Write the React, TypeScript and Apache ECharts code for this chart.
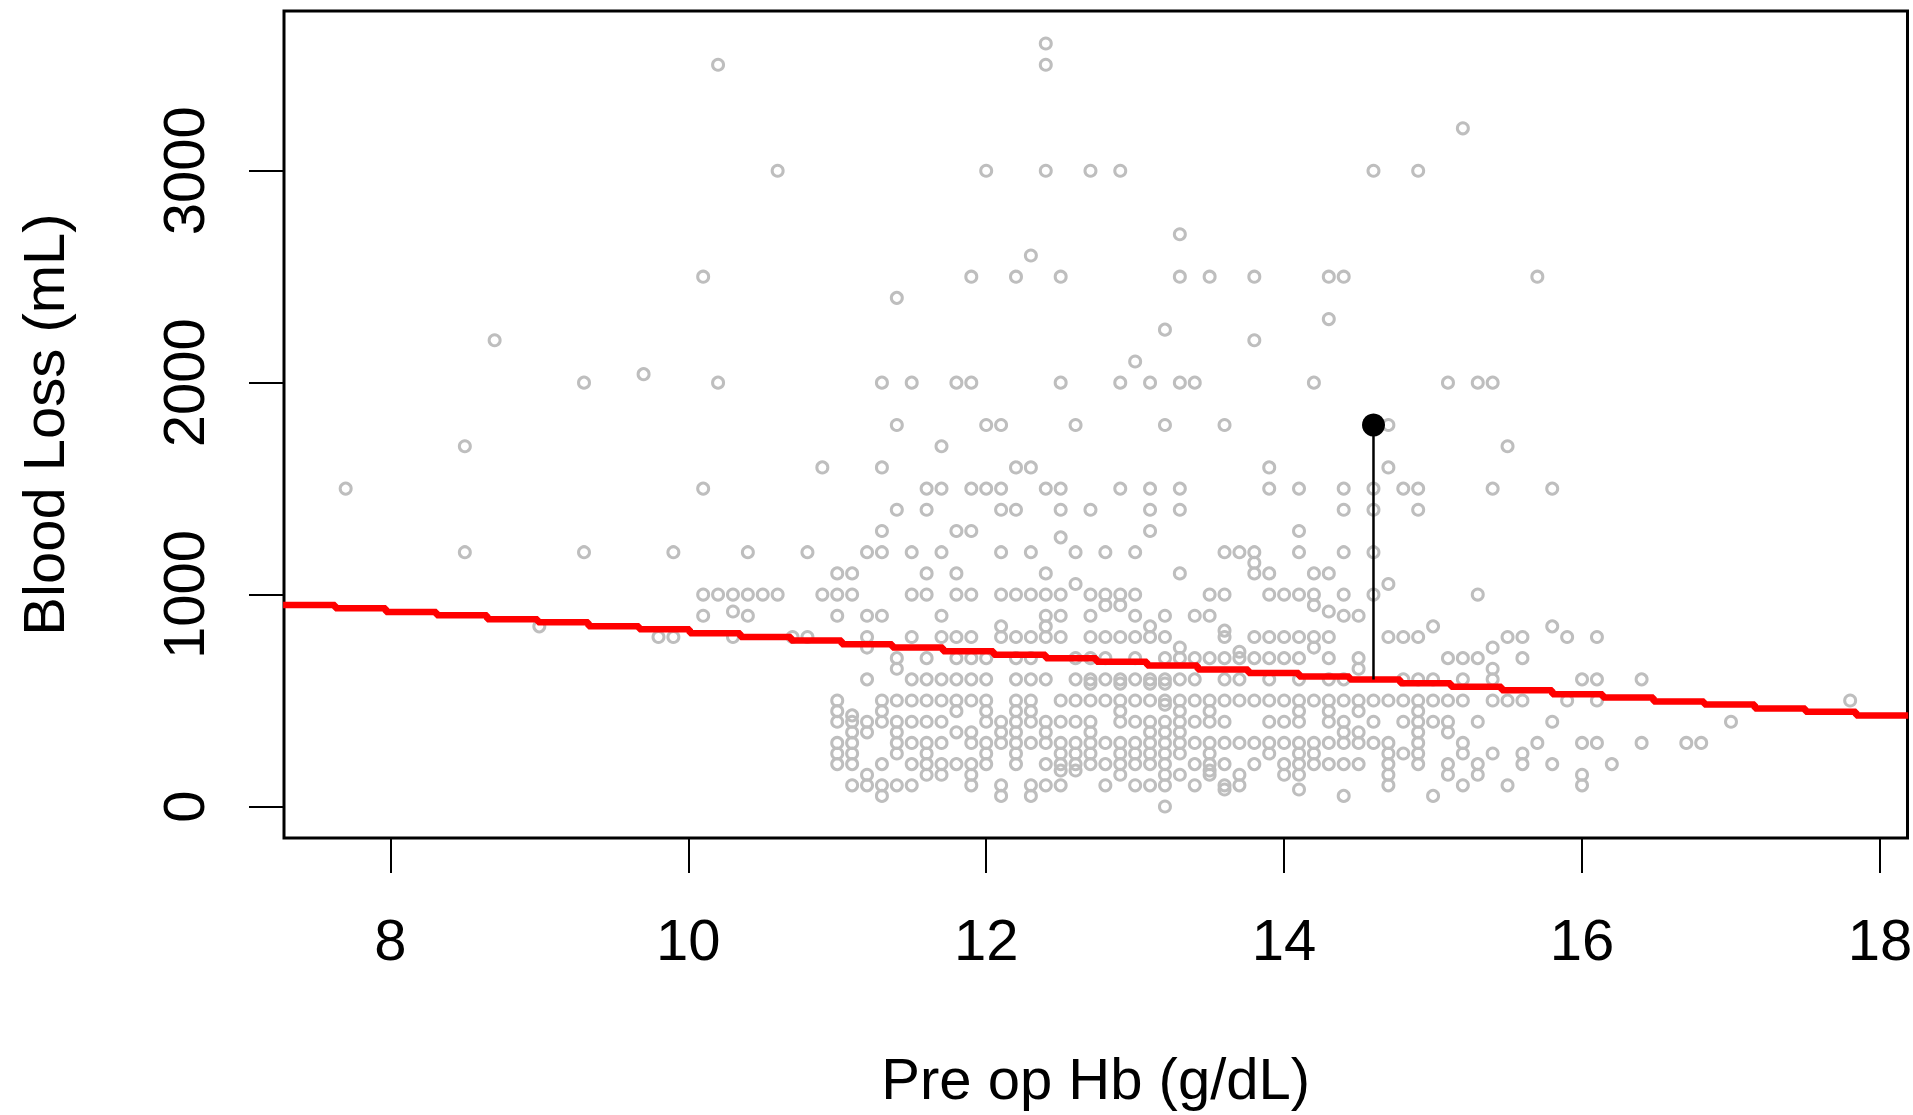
import React, { useEffect, useRef } from "react";
import * as echarts from "echarts";

// ---- axes ----
const xTicks = [8, 10, 12, 14, 16, 18];
const yTicks = [0, 1000, 2000, 3000];
const xMin = 7.286;
const xMax = 18.185;
const yMin = -148.6;
const yMax = 3753.6;

// ---- scatter: Hb values (g/dL) observed at each blood-loss level (mL) ----
const hb3600 = [12.4];
const hb3500 = [10.2, 12.4];
const hb3200 = [15.2];
const hb3000 = [10.6, 12.0, 12.4, 12.7, 12.9, 14.6, 14.9];
const hb2700 = [13.3];
const hb2600 = [12.3];
const hb2500 = [10.1, 11.9, 12.2, 12.5, 13.3, 13.5, 13.8, 14.3, 14.4, 15.7];
const hb2400 = [11.4];
const hb2300 = [14.3];
const hb2250 = [13.2];
const hb2200 = [8.7, 13.8];
const hb2100 = [13.0];
const hb2040 = [9.7];
const hb2000 = [9.3, 10.2, 11.3, 11.5, 11.8, 11.9, 12.5, 12.9, 13.1, 13.3, 13.4, 14.2, 15.1, 15.3, 15.4];
const hb1800 = [11.4, 12.0, 12.1, 12.6, 13.2, 13.6, 14.7];
const hb1700 = [8.5, 11.7, 15.5];
const hb1600 = [10.9, 11.3, 12.2, 12.3, 13.9, 14.7];
const hb1500 = [7.7, 10.1, 11.6, 11.7, 11.9, 12.0, 12.1, 12.4, 12.5, 12.9, 13.1, 13.3, 13.9, 14.1, 14.4, 14.6, 14.8, 14.9, 15.4, 15.8];
const hb1400 = [11.4, 11.6, 12.1, 12.2, 12.5, 12.7, 13.1, 13.3, 14.4, 14.6, 14.9];
const hb1300 = [11.3, 11.8, 11.9, 13.1, 14.1];
const hb1270 = [12.5];
const hb1200 = [8.5, 9.3, 9.9, 10.4, 10.8, 11.2, 11.3, 11.5, 11.7, 12.1, 12.3, 12.6, 12.8, 13.0, 13.6, 13.7, 13.8, 14.1, 14.4, 14.6];
const hb1150 = [13.8];
const hb1100 = [11.0, 11.1, 11.6, 11.8, 12.4, 13.3, 13.8, 13.9, 14.2, 14.3];
const hb1050 = [12.6, 14.7];
const hb1000 = [10.1, 10.2, 10.3, 10.4, 10.5, 10.6, 10.9, 11.0, 11.1, 11.5, 11.6, 11.8, 11.9, 12.1, 12.2, 12.3, 12.4, 12.5, 12.7, 12.8, 12.9, 13.0, 13.5, 13.6, 13.9, 14.0, 14.1, 14.2, 14.4, 14.6, 15.3];
const hb950 = [12.8, 12.9, 14.2];
const hb920 = [10.3, 14.3];
const hb900 = [10.1, 10.4, 11.0, 11.2, 11.3, 11.7, 12.4, 12.5, 12.7, 13.0, 13.2, 13.4, 13.5, 14.4, 14.5];
const hb850 = [9.0, 12.1, 12.4, 13.1, 15.0, 15.8];
const hb830 = [13.6];
const hb800 = [9.8, 9.9, 10.3, 10.7, 10.8, 11.2, 11.5, 11.7, 11.8, 11.9, 12.1, 12.2, 12.3, 12.4, 12.5, 12.7, 12.8, 12.9, 13.0, 13.1, 13.2, 13.6, 13.8, 13.9, 14.0, 14.1, 14.2, 14.3, 14.7, 14.8, 14.9, 15.5, 15.6, 15.9, 16.1];
const hb750 = [11.2, 13.3, 14.2, 15.4];
const hb730 = [13.7];
const hb700 = [11.4, 11.6, 11.8, 11.9, 12.0, 12.2, 12.3, 12.6, 12.7, 12.8, 13.0, 13.2, 13.3, 13.4, 13.5, 13.6, 13.7, 13.8, 13.9, 14.0, 14.1, 14.3, 14.5, 15.1, 15.2, 15.3, 15.6];
const hb650 = [11.4, 14.5, 15.4];
const hb600 = [11.2, 11.5, 11.6, 11.7, 11.8, 11.9, 12.0, 12.2, 12.3, 12.4, 12.6, 12.7, 12.8, 12.9, 13.0, 13.1, 13.2, 13.3, 13.4, 13.6, 13.7, 13.9, 14.1, 14.3, 14.4, 14.8, 14.9, 15.0, 15.2, 15.4, 16.0, 16.1, 16.4];
const hb580 = [12.7, 12.9, 13.1, 13.2];
const hb500 = [11.0, 11.3, 11.4, 11.5, 11.6, 11.7, 11.8, 11.9, 12.0, 12.2, 12.3, 12.5, 12.6, 12.7, 12.8, 12.9, 13.0, 13.1, 13.2, 13.3, 13.4, 13.5, 13.6, 13.7, 13.8, 13.9, 14.0, 14.1, 14.2, 14.3, 14.4, 14.5, 14.6, 14.7, 14.8, 14.9, 15.0, 15.1, 15.2, 15.4, 15.5, 15.6, 15.9, 16.1, 17.8];
const hb480 = [13.2];
const hb450 = [11.0, 11.3, 11.8, 12.0, 12.2, 12.3, 12.9, 13.3, 13.5, 14.1, 14.3, 14.5, 14.9];
const hb430 = [11.1];
const hb400 = [11.0, 11.1, 11.2, 11.3, 11.4, 11.5, 11.6, 11.7, 12.0, 12.1, 12.2, 12.3, 12.4, 12.5, 12.6, 12.7, 12.9, 13.0, 13.1, 13.2, 13.3, 13.4, 13.5, 13.6, 13.9, 14.0, 14.1, 14.3, 14.4, 14.6, 14.8, 14.9, 15.0, 15.1, 15.3, 15.8, 17.0];
const hb350 = [11.1, 11.2, 11.4, 11.8, 11.9, 12.1, 12.2, 12.4, 12.7, 13.1, 13.2, 13.3, 14.4, 14.5, 14.9, 15.1];
const hb300 = [11.0, 11.1, 11.4, 11.5, 11.6, 11.7, 11.9, 12.0, 12.1, 12.2, 12.3, 12.4, 12.5, 12.6, 12.7, 12.8, 12.9, 13.0, 13.1, 13.2, 13.3, 13.4, 13.5, 13.6, 13.7, 13.8, 13.9, 14.0, 14.1, 14.2, 14.3, 14.4, 14.5, 14.6, 14.7, 14.9, 15.2, 15.7, 16.0, 16.1, 16.4, 16.7, 16.8];
const hb250 = [11.0, 11.1, 11.4, 11.6, 12.0, 12.2, 12.5, 12.6, 12.7, 12.9, 13.0, 13.1, 13.2, 13.3, 13.5, 13.9, 14.1, 14.2, 14.7, 14.8, 14.9, 15.2, 15.4, 15.6];
const hb200 = [11.0, 11.1, 11.3, 11.5, 11.6, 11.7, 11.8, 11.9, 12.0, 12.2, 12.4, 12.5, 12.6, 12.7, 12.8, 12.9, 13.0, 13.1, 13.2, 13.4, 13.5, 13.6, 13.8, 14.0, 14.1, 14.2, 14.3, 14.4, 14.5, 14.7, 14.9, 15.1, 15.3, 15.6, 15.8, 16.2];
const hb170 = [12.5, 12.6, 13.5];
const hb150 = [11.2, 11.6, 11.7, 11.9, 12.9, 13.2, 13.3, 13.5, 13.7, 14.0, 14.1, 14.7, 15.1, 15.3, 16.0];
const hb100 = [11.1, 11.2, 11.3, 11.4, 11.5, 11.9, 12.1, 12.3, 12.4, 12.5, 12.8, 13.0, 13.1, 13.2, 13.4, 13.6, 13.7, 14.7, 15.2, 15.5, 16.0];
const hb80 = [13.6, 14.1];
const hb50 = [11.3, 12.1, 12.3, 14.4, 15.0];
const hb0 = [13.2];

const scatterRows: [number, number[]][] = [
  [3600, hb3600], [3500, hb3500], [3200, hb3200], [3000, hb3000], [2700, hb2700],
  [2600, hb2600], [2500, hb2500], [2400, hb2400], [2300, hb2300], [2250, hb2250],
  [2200, hb2200], [2100, hb2100], [2040, hb2040], [2000, hb2000], [1800, hb1800],
  [1700, hb1700], [1600, hb1600], [1500, hb1500], [1400, hb1400], [1300, hb1300],
  [1270, hb1270], [1200, hb1200], [1150, hb1150], [1100, hb1100], [1050, hb1050],
  [1000, hb1000], [950, hb950], [920, hb920], [900, hb900], [850, hb850],
  [830, hb830], [800, hb800], [750, hb750], [730, hb730], [700, hb700],
  [650, hb650], [600, hb600], [580, hb580], [500, hb500], [480, hb480],
  [450, hb450], [430, hb430], [400, hb400], [350, hb350], [300, hb300],
  [250, hb250], [200, hb200], [170, hb170], [150, hb150], [100, hb100],
  [80, hb80], [50, hb50], [0, hb0],
];

// ---- red step line (fitted values) ----
const stepHb = [7.28, 7.63, 7.97, 8.31, 8.65, 8.99, 9.33, 9.67, 10.01, 10.35, 10.69, 11.03, 11.37, 11.71, 12.05, 12.40, 12.74, 13.08, 13.42, 13.76, 14.10, 14.44, 14.78, 15.12, 15.46, 15.80, 16.14, 16.48, 16.82, 17.16, 17.50, 17.84, 18.19];
const stepLoss = [951, 935, 918, 902, 883, 869, 850, 836, 817, 800, 783, 766, 750, 733, 716, 700, 683, 665, 647, 630, 614, 599, 581, 565, 548, 530, 514, 495, 481, 463, 447, 430, 430];

// ---- highlighted observation ----
const highlightHb = 14.6;
const highlightLoss = 1800;
const highlightFitted = 599;

const FONT = "'Liberation Sans', Arial, Helvetica, sans-serif";

export default function App() {
  const ref = useRef<HTMLDivElement>(null);

  useEffect(() => {
    if (!ref.current) return;
    const chart = echarts.init(ref.current, null, { renderer: "svg" });

    const scatterData: number[][] = [];
    scatterRows.forEach(([loss, hbs]) => {
      hbs.forEach((hb) => scatterData.push([hb, loss]));
    });
    const stepData = stepHb.map((x, i) => [x, stepLoss[i]]);

    chart.setOption({
      animation: false,
      backgroundColor: "#ffffff",
      grid: {
        left: 284,
        right: 5.5,
        top: 11,
        bottom: 277,
        show: true,
        borderColor: "#000000",
        borderWidth: 3,
        backgroundColor: "transparent",
        containLabel: false,
        outerBoundsMode: "none",
      },
      xAxis: {
        type: "value",
        min: xMin,
        max: xMax,
        position: "bottom",
        axisLine: { show: false, onZero: false },
        splitLine: { show: false },
        axisTick: {
          show: true,
          inside: false,
          customValues: xTicks,
          length: 35,
          lineStyle: { color: "#000000", width: 2 },
        },
        axisLabel: {
          customValues: xTicks,
          margin: 72,
          fontSize: 58,
          fontFamily: FONT,
          color: "#000000",
          formatter: (v: number) => String(v),
        },
        name: "Pre op Hb (g/dL)",
        nameLocation: "middle",
        nameGap: 211,
        nameMoveOverlap: false,
        nameTextStyle: { fontSize: 58, fontFamily: FONT, color: "#000000" },
      },
      yAxis: {
        type: "value",
        min: yMin,
        max: yMax,
        axisLine: { show: false, onZero: false },
        splitLine: { show: false },
        axisTick: {
          show: true,
          inside: false,
          customValues: yTicks,
          length: 35,
          lineStyle: { color: "#000000", width: 2 },
        },
        axisLabel: {
          customValues: yTicks,
          rotate: 90,
          margin: 72,
          fontSize: 58,
          fontFamily: FONT,
          color: "#000000",
          formatter: (v: number) => String(v),
        },
        name: "Blood Loss (mL)",
        nameLocation: "middle",
        nameGap: 212,
        nameMoveOverlap: false,
        nameTextStyle: { fontSize: 58, fontFamily: FONT, color: "#000000" },
      },
      series: [
        {
          type: "scatter",
          data: scatterData,
          symbol: "circle",
          symbolSize: 11,
          silent: true,
          itemStyle: {
            color: "rgba(0,0,0,0)",
            borderColor: "#BEBEBE",
            borderWidth: 3,
            opacity: 1,
          },
          z: 1,
        },
        {
          type: "line",
          data: stepData,
          step: "end",
          showSymbol: false,
          symbol: "none",
          silent: true,
          lineStyle: { color: "#FF0000", width: 6.5, opacity: 1 },
          z: 2,
        },
        {
          type: "line",
          data: [
            [highlightHb, highlightLoss],
            [highlightHb, highlightFitted],
          ],
          showSymbol: false,
          symbol: "none",
          silent: true,
          lineStyle: { color: "#000000", width: 2.5, opacity: 1 },
          z: 3,
        },
        {
          type: "scatter",
          data: [[highlightHb, highlightLoss]],
          symbol: "circle",
          symbolSize: 23,
          silent: true,
          itemStyle: { color: "#000000", opacity: 1 },
          z: 4,
        },
      ],
    });

    return () => {
      chart.dispose();
    };
  }, []);

  return (
    <div
      ref={ref}
      style={{
        position: "fixed",
        left: 0,
        top: 0,
        width: 1913,
        height: 1115,
        background: "#ffffff",
      }}
    />
  );
}
